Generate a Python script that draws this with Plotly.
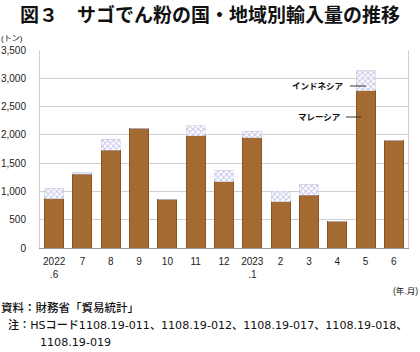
import plotly.graph_objects as go

categories = ["2022<br>.6", "7", "8", "9", "10", "11", "12", "2023<br>.1", "2", "3", "4", "5", "6"]
malaysia = [875, 1305, 1730, 2120, 865, 1985, 1175, 1950, 815, 935, 470, 2780, 1905]
indonesia = [185, 35, 190, 0, 0, 180, 200, 110, 190, 195, 0, 365, 0]
y_ticks = [0, 500, 1000, 1500, 2000, 2500, 3000, 3500]
y_tick_text = ["0", "500", "1,000", "1,500", "2,000", "2,500", "3,000", "3,500"]

FONT = "Liberation Sans, Noto Sans CJK JP"
NOTE = "DejaVu Sans, Noto Sans CJK JP"
CJK = "Noto Sans CJK JP"

L, R, T, B = 40, 12, 50, 104
W, H = 420, 352
PW, PH = W - L - R, H - T - B


def px(x):
    return (x - L) / PW


def py(y):
    return (H - B - y) / PH


fig = go.Figure()
fig.add_trace(go.Bar(
    x=categories, y=malaysia, name="マレーシア",
    marker=dict(color="#A36A32", line=dict(color="#8A5522", width=1)),
))
fig.add_trace(go.Bar(
    x=categories, y=indonesia, name="インドネシア",
    marker=dict(color="white", line=dict(color="#C4C4E0", width=0.5),
                pattern=dict(shape="x", fgcolor="#8C8CD0", bgcolor="white", size=4, solidity=0.45)),
))

fig.update_layout(
    barmode="stack", bargap=0.33,
    width=W, height=H,
    margin=dict(l=L, r=R, t=T, b=B, autoexpand=False),
    paper_bgcolor="white", plot_bgcolor="white",
    showlegend=False,
    font=dict(family=FONT, size=10, color="#222"),
    xaxis=dict(type="category", showgrid=False, showline=True, linecolor="#999", linewidth=1,
               ticks="", tickfont=dict(size=10, family=FONT), ticklabelstandoff=4),
    yaxis=dict(range=[0, 3500], tickvals=y_ticks, ticktext=y_tick_text,
               showgrid=True, gridcolor="#CFCFCF", gridwidth=1, zeroline=False,
               showline=True, linecolor="#CFCFCF", mirror=True, ticks="",
               tickfont=dict(size=10, family=FONT), ticklabelstandoff=11),
)


def txt(text, x, y, size, xanchor="left", family=FONT, weight="normal"):
    fig.add_annotation(text=text, xref="paper", yref="paper", x=px(x), y=py(y),
                       xanchor=xanchor, yanchor="middle", showarrow=False, borderpad=0,
                       font=dict(size=size, family=family, color="#111", weight=weight))


txt("図３　サゴでん粉の国・地域別輸入量の推移", 210, 14, 19, "center", CJK, "bold")
txt("(トン)", 0, 38, 8)
txt("(年.月)", 419, 291, 8.5, "right")
txt("資料：財務省「貿易統計」", 0, 308, 11.5, family=NOTE, weight=500)
txt("注：HSコード1108.19-011、1108.19-012、1108.19-017、1108.19-018、", 7, 325, 11.1, family=NOTE, weight=500)
txt("1108.19-019", 39, 342, 11.1, family=NOTE, weight=500)

# series labels near the 2023.5 bar
txt("インドネシア", 345, 86, 8.5, "right", weight="bold")
txt("マレーシア", 342, 117, 8.5, "right", weight="bold")
for x0, x1, yy in [(350, 366, 86), (346, 361, 117)]:
    fig.add_shape(type="line", xref="paper", yref="paper", x0=px(x0), x1=px(x1),
                  y0=py(yy), y1=py(yy), line=dict(color="#333", width=1))

fig.write_html("out.html")
